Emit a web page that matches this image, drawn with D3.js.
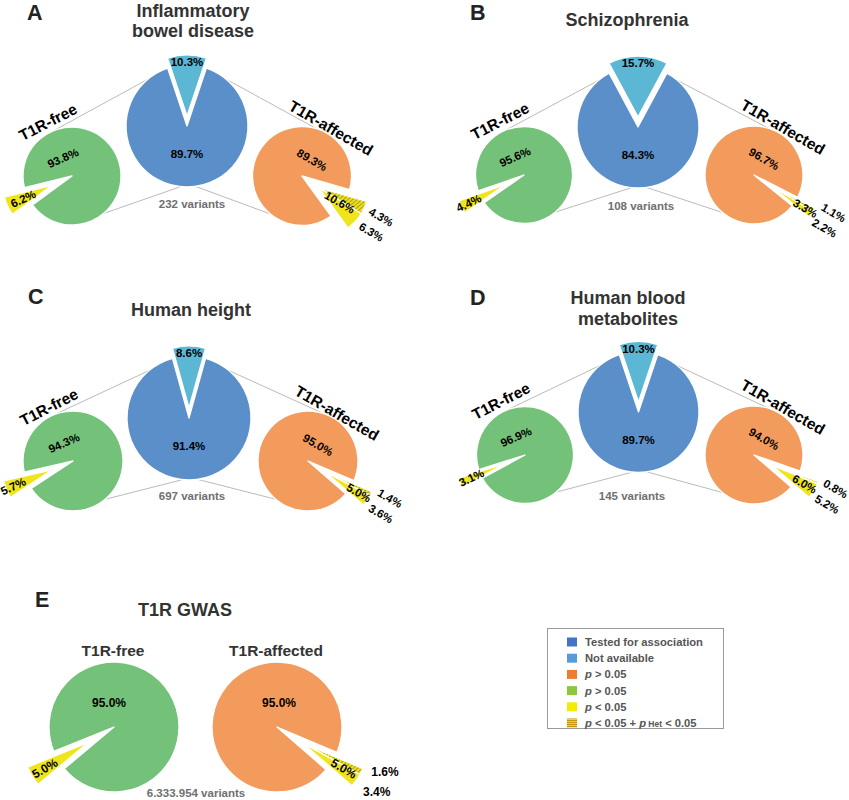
<!DOCTYPE html>
<html><head><meta charset="utf-8">
<script src="https://cdn.jsdelivr.net/npm/d3@7"></script>
<style>body{margin:0;background:#fff} text{font-family:Arial,"Liberation Sans",sans-serif;font-weight:bold}</style>
</head><body><svg id="c" width="849" height="800"></svg>
<script>
// ---------------- data ----------------
const panelLetters = ["A","B","C","D"];
const panelTitles = [["Inflammatory","bowel disease"],["Schizophrenia"],["Human height"],["Human blood","metabolites"]];
const variantCounts = ["232 variants","108 variants","697 variants","145 variants"];
const notAvailable = [10.3,15.7,8.6,10.3];
const tested = [89.7,84.3,91.4,89.7];
const freeNotSig = [93.8,95.6,94.3,96.9];
const freeSig = [6.2,4.4,5.7,3.1];
const affNotSig = [89.3,96.7,95.0,94.0];
const affSig = [10.6,3.3,5.0,6.0];
const affSigHet = [4.3,1.1,1.4,0.8];
const affSigOnly = [6.3,2.2,3.6,5.2];
const gwasTitle = "T1R GWAS";
const gwasFree = [95.0,5.0];
const gwasAffNotSig = 95.0, gwasAffSig = 5.0;
const gwasAffSplit = [1.6,3.4];
const gwasVariants = "6.333.954 variants";
const groupNames = ["T1R-free","T1R-affected"];
const legendItems = [
  [["Tested for association","n"]],
  [["Not available","n"]],
  [["p","i"],[" > 0.05","n"]],
  [["p","i"],[" > 0.05","n"]],
  [["p","i"],[" < 0.05","n"]],
  [["p","i"],[" < 0.05 + ","n"],["p","i"],[" Het","s"],[" < 0.05","n"]]
];

// ---------------- styles / layout ----------------
const C = {blue:"#5b8fca", light:"#5cb7d5", green:"#74c17a", orange:"#f39b5d", yellow:"#efe51c"};
const legendColors = ["#4472c4","#5b9bd5","#ed7d31","#8dc63f","#f4ec00","url(#hatchL)"];
const layout = [
 {letter:[27,19.5], tx:193, ty:[17,37], blue:[187,126,61], green:[72,176,49], orange:[302,176,49.5], vt:[192,208], gMid:245, oMid:125, gLab:1.1, oLab:0.93},
 {letter:[470,19.5], tx:627, ty:[26], blue:[638,127,61], green:[524,175,48.5], orange:[754,175,49], vt:[641,210], gMid:243, oMid:123, gLab:1.28, oLab:1.25},
 {letter:[28,304], tx:191, ty:[316], blue:[189,418,62], green:[73,461,50], orange:[308,461,50], vt:[192,500], gMid:247, oMid:122, gLab:1.3, oLab:1.2},
 {letter:[470,305], tx:628, ty:[304,325], blue:[638.5,412,60.5], green:[525,455,48.5], orange:[754,455,49], vt:[632,500], gMid:247, oMid:120, gLab:1.2, oLab:1.19}
];
const rad = d => d*Math.PI/180;
const pt = (cx,cy,r,deg) => [cx + r*Math.sin(rad(deg)), cy - r*Math.cos(rad(deg))];

const svg = d3.select("#c");
const defs = svg.append("defs");
const h1 = defs.append("pattern").attr("id","hatch").attr("width",3).attr("height",3)
  .attr("patternUnits","userSpaceOnUse").attr("patternTransform","rotate(-40)");
h1.append("rect").attr("width",3).attr("height",3).attr("fill",C.yellow);
h1.append("line").attr("x1",0).attr("x2",3).attr("y1",0.6).attr("y2",0.6).attr("stroke","#9e8c1c").attr("stroke-width",0.9);
const h2 = defs.append("pattern").attr("id","hatchL").attr("width",4).attr("height",2)
  .attr("patternUnits","userSpaceOnUse");
h2.append("rect").attr("width",4).attr("height",2).attr("fill","#f5d400");
h2.append("line").attr("x1",0).attr("x2",4).attr("y1",0.5).attr("y2",0.5).attr("stroke","#b8860b").attr("stroke-width",0.8);

const gLines = svg.append("g");
const gPies = svg.append("g");
const gText = svg.append("g");

// draw a pie whose slices listed in `ex` are exploded together so their mid sits at targetDeg
function drawPie(cx, cy, r, values, fills, ex, targetDeg, d){
  const p0 = d3.pie().sort(null).value(v=>v)(values);
  const m0 = (p0[ex[0]].startAngle + p0[ex[ex.length-1]].endAngle)/2;
  const start = rad(targetDeg) - m0;
  const arcs = d3.pie().sort(null).value(v=>v).startAngle(start).endAngle(start+2*Math.PI)(values);
  const mid = rad(targetDeg);
  const ox = d*Math.sin(mid), oy = -d*Math.cos(mid);
  const g = gPies.append("g").attr("transform",`translate(${cx},${cy})`);
  const arc = d3.arc().innerRadius(0).outerRadius(r);
  arcs.forEach((a,i)=>{
    const e = ex.includes(i);
    g.append("path").attr("d",arc(a)).attr("fill",fills[i])
      .attr("stroke","#fff").attr("stroke-width",1.3).attr("stroke-linejoin","round")
      .attr("transform", e ? `translate(${ox},${oy})` : null);
  });
  return arcs;
}
function label(x,y,txt,size,rot,fill){
  const t = gText.append("text").attr("x",x).attr("y",y).attr("text-anchor","middle")
    .attr("dominant-baseline","central").attr("font-size",size).attr("fill",fill||"#000").text(txt);
  if(rot) t.attr("transform",`rotate(${rot},${x},${y})`);
  return t;
}
const fmt = v => v.toFixed(1)+"%";

panelLetters.forEach((L,i)=>{
  const lo = layout[i];
  gText.append("text").attr("x",lo.letter[0]).attr("y",lo.letter[1]).attr("font-size",21.5).attr("fill","#222").text(L);
  panelTitles[i].forEach((t,j)=>{
    gText.append("text").attr("x",lo.tx).attr("y",lo.ty[j]).attr("text-anchor","middle").attr("font-size",18).attr("fill","#333").text(t);
  });
  const [bx,by,br] = lo.blue, [gx,gy,gr] = lo.green, [ox,oy,or] = lo.orange;
  // connector lines
  const conn = [[pt(bx,by,br,-40),pt(gx,gy,gr,-21)],[pt(bx,by,br,186),pt(gx,gy,gr,140)],
                [pt(bx,by,br,40),pt(ox,oy,or,17)],[pt(bx,by,br,172),pt(ox,oy,or,220)]];
  conn.forEach(([a,b])=>gLines.append("line").attr("x1",a[0]).attr("y1",a[1]).attr("x2",b[0]).attr("y2",b[1])
    .attr("stroke","#a8a8a8").attr("stroke-width",0.8));
  // center pie
  drawPie(bx,by,br,[notAvailable[i],tested[i]],[C.light,C.blue],[0],0,10);
  label(bx, by-(br+10)+7, fmt(notAvailable[i]), 11.5);
  label(bx, by+28, fmt(tested[i]), 11.5);
  // T1R-free pie
  const dg = 0.45*gr;
  drawPie(gx,gy,gr,[freeNotSig[i],freeSig[i]],[C.green,C.yellow],[1],lo.gMid,dg);
  label(gx-9, gy-18, fmt(freeNotSig[i]), 11.5, -24);
  const gl = pt(gx,gy,gr*lo.gLab,lo.gMid);
  label(gl[0], gl[1], fmt(freeSig[i]), 11.5, -25);
  label(gx-24, gy-54, groupNames[0], 15.5, -27);
  // T1R-affected pie
  const dor = 0.42*or;
  drawPie(ox,oy,or,[affNotSig[i],affSigHet[i],affSigOnly[i]],[C.orange,"url(#hatch)",C.yellow],[1,2],lo.oMid,dor);
  label(ox+10, oy-16, fmt(affNotSig[i]), 11.5, 30);
  const ol = pt(ox,oy,or*lo.oLab,lo.oMid);
  label(ol[0], ol[1], fmt(affSig[i]), 11.5, 30);
  const u = pt(ox,oy,or*1.8,lo.oMid-7.5), w = pt(ox,oy,or*1.8,lo.oMid+4);
  label(u[0],u[1],fmt(affSigHet[i]),11.5,30);
  label(w[0],w[1],fmt(affSigOnly[i]),11.5,30);
  label(ox+29, oy-48, groupNames[1], 15.5, 30);
  // variants
  gText.append("text").attr("x",lo.vt[0]).attr("y",lo.vt[1]).attr("text-anchor","middle").attr("font-size",11.5).attr("fill","#707070").text(variantCounts[i]);
});

// ---------------- panel E ----------------
gText.append("text").attr("x",35).attr("y",607).attr("font-size",21.5).attr("fill","#222").text("E");
gText.append("text").attr("x",185).attr("y",616).attr("text-anchor","middle").attr("font-size",18).attr("fill","#333").text(gwasTitle);
gText.append("text").attr("x",113).attr("y",656).attr("text-anchor","middle").attr("font-size",15.5).attr("fill","#333").text(groupNames[0]);
gText.append("text").attr("x",276).attr("y",656).attr("text-anchor","middle").attr("font-size",15.5).attr("fill","#333").text(groupNames[1]);
{
  const gx=114, gy=727, r=65, ox=277, oy=727;
  drawPie(gx,gy,r,gwasFree,[C.green,C.yellow],[1],239,0.47*r);
  label(gx-5, gy-24, fmt(gwasFree[0]), 12);
  const a = pt(gx,gy,r*1.24,239); label(a[0],a[1],fmt(gwasFree[1]),12,-30);
  drawPie(ox,oy,r,[gwasAffNotSig,gwasAffSplit[0],gwasAffSplit[1]],[C.orange,"url(#hatch)",C.yellow],[1,2],122,0.47*r);
  label(ox+2, oy-24, fmt(gwasAffNotSig), 12);
  const b = pt(ox,oy,r*1.21,122); label(b[0],b[1],fmt(gwasAffSig),12,30);
  const u = pt(ox,oy,r*1.8,112.6), w = pt(ox,oy,r*1.83,123);
  label(u[0],u[1],fmt(gwasAffSplit[0]),12);
  label(w[0],w[1],fmt(gwasAffSplit[1]),12);
  gText.append("text").attr("x",196).attr("y",797).attr("text-anchor","middle").attr("font-size",11.5).attr("fill","#707070").text(gwasVariants);
}

// ---------------- legend ----------------
{
  const lg = svg.append("g");
  lg.append("rect").attr("x",547.5).attr("y",628.5).attr("width",176).attr("height",100).attr("fill","#fff").attr("stroke","#9a9a9a").attr("stroke-width",1);
  const rows = d3.scaleLinear().domain([0,5]).range([642,723]);
  legendItems.forEach((item,i)=>{
    const y = rows(i);
    lg.append("rect").attr("x",567).attr("y",y-4.5).attr("width",10).attr("height",9).attr("fill",legendColors[i]);
    const t = lg.append("text").attr("x",585).attr("y",y+4).attr("font-size",11.2).attr("fill","#555");
    item.forEach(([s,k])=>{
      const ts = t.append("tspan").text(s);
      if(k==="i") ts.attr("font-style","italic");
      if(k==="s") ts.attr("font-size",8.5);
    });
  });
}
</script></body></html>
